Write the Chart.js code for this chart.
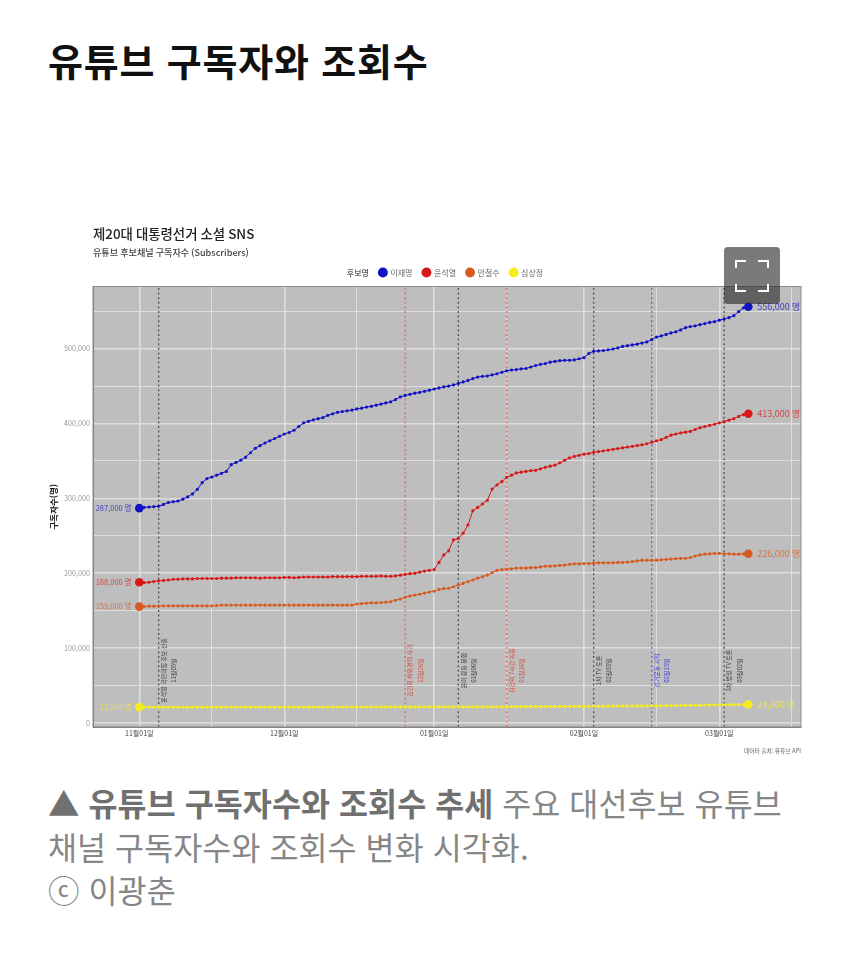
<!DOCTYPE html>
<html lang="ko">
<head>
<meta charset="utf-8">
<script src="https://cdn.jsdelivr.net/npm/chart.js@4/dist/chart.umd.min.js"></script>
<style>
html,body{margin:0;padding:0;background:#fff;width:850px;height:953px;overflow:hidden;font-family:"Noto Sans CJK KR","Noto Sans",sans-serif}
#h{position:absolute;left:48px;top:35px;margin:0;font-size:38px;line-height:50px;font-weight:700;color:#111;letter-spacing:.8px;white-space:nowrap}
#wrap{position:absolute;left:40px;top:215px;width:775px;height:555px;filter:blur(.7px)}
#cap{position:absolute;left:48px;top:781px;width:790px;font-size:31.5px;line-height:43.5px;color:#868686;margin:0;letter-spacing:.1px;white-space:nowrap}
#cap b{color:#707070;font-weight:700}
#fs{position:absolute;left:724px;top:247px;width:56px;height:57px;border-radius:4px;background:rgba(40,40,40,.62)}
#fs svg{position:absolute;left:0;top:0}
</style>
</head>
<body>
<h1 id="h">유튜브 구독자와 조회수</h1>
<div id="wrap"><canvas id="c" width="775" height="555"></canvas></div>
<div id="fs"><svg width="56" height="57" fill="none" stroke="#fff" stroke-width="2"><path d="M12 21V14H22M34 14H44V21M12 37V44H22M34 44H44V37"/></svg></div>
<p id="cap"><b>▲ 유튜브 구독자수와 조회수 추세</b> 주요 대선후보 유튜브<br>채널 구독자수와 조회수 변화 시각화.<br>ⓒ 이광춘</p>
<script>
// Daily subscriber counts, thousands, from 1 Nov (day 0) to 7 Mar (day 126)
const candidates = ['이재명','윤석열','안철수','심상정'];
const colors = ['#1212c4','#d81818','#d95a20','#f6ee1c'];
const subsLee = [287,288,288.5,289,289.5,292,294.5,295.5,296.5,299,302,306,312,321,326.5,328.5,331,333.5,336,345,348,351,355,361,367,370.5,374,377,380,383,386,388,391,396,401,403,405,406.5,408,411,413,415,416,417,418,419.5,420.5,422,423,424.5,426,427.5,429,432,435.5,437.5,439,440.5,441.5,443,444.5,446,447.5,449,450,451.5,453.5,455.5,457.5,460,462,463,463.5,465,466.5,468.5,470.5,471.5,472,473,473.5,475.5,477.5,479,480,482,483,484,484.5,484.5,485,486.5,488,493.5,496.5,497,497.5,498.5,499.5,501,503,504,505,506,507.5,509,512,515.5,517,519,521,522.5,525,528,529.5,530.5,532,533.5,535,536,538,539.5,541.5,544,549.5,554.5,556];
const subsYoon = [188,187.5,188,189,190,190.5,191,192,192,192.5,192.5,192.5,193,193,193,193,193,193.5,193.5,193.5,194,194,194,194,194,193.5,194,194,194,194,194.5,194.5,194,194.5,195,195,195,195,195,195,195.5,195.5,195.5,195.5,195.5,195.5,196,196,196,196,196.5,196,196,196.5,197.5,198.5,199.5,200,201.5,203,204,205,214.5,224.5,230,244.5,246.5,253.5,264.5,283.5,288,292.5,297.5,312.5,318,322.5,328,331,334,335,336,337,337.5,339.5,341.5,343,344.5,347.5,351,354,356,357.5,359,360,361.5,362.5,363.5,364.5,365.5,366.5,367.5,368.5,369.5,370.5,371.5,373,375,377,378.5,381.5,384.5,386,387.5,388.5,389.5,392,394.5,396,397.5,399,401,402.5,404.5,406.5,409.5,412,413];
const subsAhn = [155.5,155.5,156,156,156,156.5,156.5,156.5,156.5,156.5,156.5,156.5,156.5,156.5,156.5,156.5,157,157.5,157.5,157.5,157.5,157.5,157.5,157.5,157.5,157.5,157.5,157.5,157.5,157.5,157.5,157.5,157.5,157.5,157.5,157.5,157.5,157.5,157.5,157.5,157.5,157.5,157.5,157.5,157.5,159,159.5,160,160.5,160.5,161,161.5,162,164,165.5,168,169.5,171,172,173.5,175,176,178.5,179.5,180,182,184.5,186.5,189,191,193.5,195.5,197.5,201,204,205,205.5,206,207,207,207,207.5,207.5,208.5,209.5,209.5,210,210.5,211,212,212.5,212.5,213,213,213.5,214,214,214,214,214.5,214.5,215,215.5,216.5,217.5,217.5,217.5,217.5,218,218.5,219,219.5,220,220,221,223,224.5,225.5,226,226.5,226.5,226,226,225.5,225.5,226,226];
const subsSim = [21.2,21.2,21.2,21.2,21.2,21.2,21.2,21.2,21.2,21.2,21.2,21.2,21.2,21.2,21.2,21.2,21.2,21.2,21.2,21.2,21.3,21.3,21.3,21.3,21.3,21.3,21.3,21.3,21.3,21.3,21.3,21.3,21.3,21.3,21.3,21.3,21.3,21.3,21.3,21.3,21.4,21.4,21.4,21.4,21.4,21.4,21.4,21.4,21.4,21.4,21.5,21.5,21.5,21.5,21.5,21.5,21.5,21.5,21.5,21.5,21.6,21.6,21.6,21.6,21.6,21.6,21.6,21.6,21.7,21.7,21.7,21.7,21.7,21.7,21.7,21.7,21.8,21.8,21.8,21.8,21.9,21.9,21.9,21.9,22,22,22,22,22.1,22.1,22.2,22.2,22.3,22.3,22.4,22.4,22.5,22.5,22.6,22.6,22.7,22.7,22.8,22.8,22.9,22.9,23,23,23.1,23.2,23.3,23.4,23.5,23.6,23.7,23.8,23.9,24,24.1,24.2,24.3,24.4,24.4,24.5,24.6,24.7,24.8];
const startLabels = ['287,000 명','188,000 명','155,000 명','21,200 명'];
const endLabels = ['556,000 명','413,000 명','226,000 명','24,800 명'];
const monthDays = [0,30,61,92,120];
const monthLabels = ['11월01일','12월01일','01월01일','02월01일','03월01일'];
const midMonthDays = [15,45,76,107,135];
const yMajorTicks = [0,100000,200000,300000,400000,500000];
const yMinorTicks = [50000,150000,250000,350000,450000,550000];
const eventDays = [4,55,66,76,94,106,121];
const eventTexts = ['윤석열 국민의힘 후보 선출','김건희 허위경력 사과','윤이 갈등 봉합','김건희 7시간 녹음','1차 TV 토론','선거운동 시작','3차 법정 TV 토론'];
const eventDates = ['11월05일','12월26일','01월06일','01월16일','02월03일','02월15일','03월02일'];
const eventColors = ['#505050','#dc6a60','#505050','#dc6a60','#505050','#6464d8','#505050'];
const eventTextColors = ['#3c3c3c','#d8483c','#3c3c3c','#d8483c','#3c3c3c','#3c3cdc','#3c3c3c'];
const xMin = -9.58, xMax = 136.9, yMin = -5300, yMax = 583000;
const fontKr = '"Noto Sans CJK KR"';
const allSeries = [subsLee,subsYoon,subsAhn,subsSim];

const seriesSets = allSeries.map((arr,k)=>({
  label:candidates[k],
  data:arr.map((v,i)=>({x:i,y:v*1000})),
  borderColor:colors[k],
  backgroundColor:colors[k],
  borderWidth:1,
  pointRadius:c=>(c.dataIndex===0||c.dataIndex===arr.length-1)?4.3:1.6,
  pointBorderWidth:0,
  order:1+(3-k)
}));
const eventSets = eventDays.map((d,i)=>({
  label:'event'+i,
  data:[{x:d,y:yMin},{x:d,y:yMax}],
  borderColor:eventColors[i],
  borderWidth:1.3,
  borderDash:[2,2.6],
  pointRadius:0,
  order:10
}));

const decor = {
  id:'decor',
  afterLayout(ch){ ch.legend.left -= 15; },
  beforeDraw(ch){
    const a=ch.chartArea,g=ch.ctx;
    g.save();g.fillStyle='#bebebe';g.fillRect(a.left,a.top,a.width,a.height);g.restore();
  },
  afterDatasetsDraw(ch){
    const g=ch.ctx,xs=ch.scales.x,ys=ch.scales.y,a=ch.chartArea;
    g.save();
    g.strokeStyle='#8e8e8e';g.lineWidth=1;g.strokeRect(a.left,a.top,a.width,a.height);
    // event annotations
    g.textAlign='center';g.textBaseline='middle';g.font='6px '+fontKr;
    eventDays.forEach((d,i)=>{
      const px=xs.getPixelForValue(d),py=ys.getPixelForValue(70000);
      g.fillStyle=eventTextColors[i];
      [[5,eventTexts[i]],[15.5,eventDates[i]]].forEach(([dx,t])=>{
        g.save();g.translate(px+dx,py);g.rotate(-Math.PI/2);g.fillText(t,0,0);g.restore();
      });
    });
    // first and last point labels
    g.textBaseline='middle';
    allSeries.forEach((arr,k)=>{
      g.fillStyle=k===3?'#f4ee30':colors[k];g.globalAlpha=.75;
      g.font='7.5px '+fontKr;
      g.textAlign='right';
      g.fillText(startLabels[k],xs.getPixelForValue(0)-8,ys.getPixelForValue(arr[0]*1000));
      g.textAlign='left';
      g.font='9px '+fontKr;
      g.fillText(endLabels[k],xs.getPixelForValue(arr.length-1)+9,ys.getPixelForValue(arr[arr.length-1]*1000));
    });
    g.globalAlpha=1;
    g.fillStyle='#666';g.font='5.8px '+fontKr;g.textAlign='right';
    g.fillText('데이터 출처: 유튜브 API',a.right,a.bottom+24);
    g.restore();
  }
};

new Chart(document.getElementById('c'),{
  type:'line',
  data:{datasets:[...seriesSets,...eventSets]},
  plugins:[decor],
  options:{
    responsive:false,animation:false,devicePixelRatio:1,
    parsing:false,normalized:true,
    layout:{padding:{left:0,right:14,top:0,bottom:0}},
    plugins:{
      tooltip:{enabled:false},
      title:{display:true,text:'제20대 대통령선거 소셜 SNS',align:'start',fullSize:false,color:'#222',
        font:{family:fontKr,size:13.4,weight:'500',lineHeight:1.2},padding:{top:11,bottom:0}},
      subtitle:{display:true,text:'유튜브 후보채널 구독자수 (Subscribers)',align:'start',fullSize:false,color:'#444',
        font:{family:fontKr,size:9.1,weight:'500',lineHeight:1.2},padding:{top:5,bottom:0}},
      legend:{display:true,position:'top',fullSize:false,
        labels:{font:{family:fontKr,size:8},color:'#666',usePointStyle:true,pointStyle:'circle',boxWidth:7,boxHeight:7,padding:10.5,
          generateLabels(){
            const items=candidates.map((t,k)=>({text:t,fillStyle:colors[k],strokeStyle:colors[k],lineWidth:0,pointStyle:'circle',fontColor:'#666',datasetIndex:k}));
            items.unshift({text:'후보명',fillStyle:'rgba(0,0,0,0)',strokeStyle:'rgba(0,0,0,0)',lineWidth:0,pointStyle:'circle',fontColor:'#222',datasetIndex:-1});
            return items;
          }}}
    },
    scales:{
      x:{type:'linear',min:xMin,max:xMax,
        afterBuildTicks(s){s.ticks=[...monthDays.map(v=>({value:v})),...midMonthDays.map(v=>({value:v}))];},
        afterFit(s){s.height=43;},
        grid:{color:'#dedede',lineWidth:c=>monthDays.includes(c.tick&&c.tick.value)?1.6:1,drawTicks:false},
        border:{color:'#777',width:1},
        ticks:{autoSkip:false,maxRotation:0,minRotation:0,padding:2,color:'#444',font:{family:fontKr,size:7},
          callback(v){const i=monthDays.indexOf(v);return i>=0?monthLabels[i]:'';}}
      },
      y:{type:'linear',min:yMin,max:yMax,
        afterBuildTicks(s){s.ticks=[...yMajorTicks.map(v=>({value:v})),...yMinorTicks.map(v=>({value:v}))];},
        afterFit(s){s.width=53;},
        grid:{color:'#dedede',lineWidth:c=>yMajorTicks.includes(c.tick&&c.tick.value)?1.6:1,drawTicks:false},
        border:{color:'#777',width:1},
        title:{display:true,text:'구독자수(명)',color:'#222',font:{family:fontKr,size:8.5,weight:'700'},padding:{top:9,bottom:0}},
        ticks:{autoSkip:false,padding:3,color:'#999',font:{family:fontKr,size:7.2},
          callback(v){return yMajorTicks.includes(v)?v.toLocaleString('en-US'):'';}}
      }
    }
  }
});
</script>
</body>
</html>
